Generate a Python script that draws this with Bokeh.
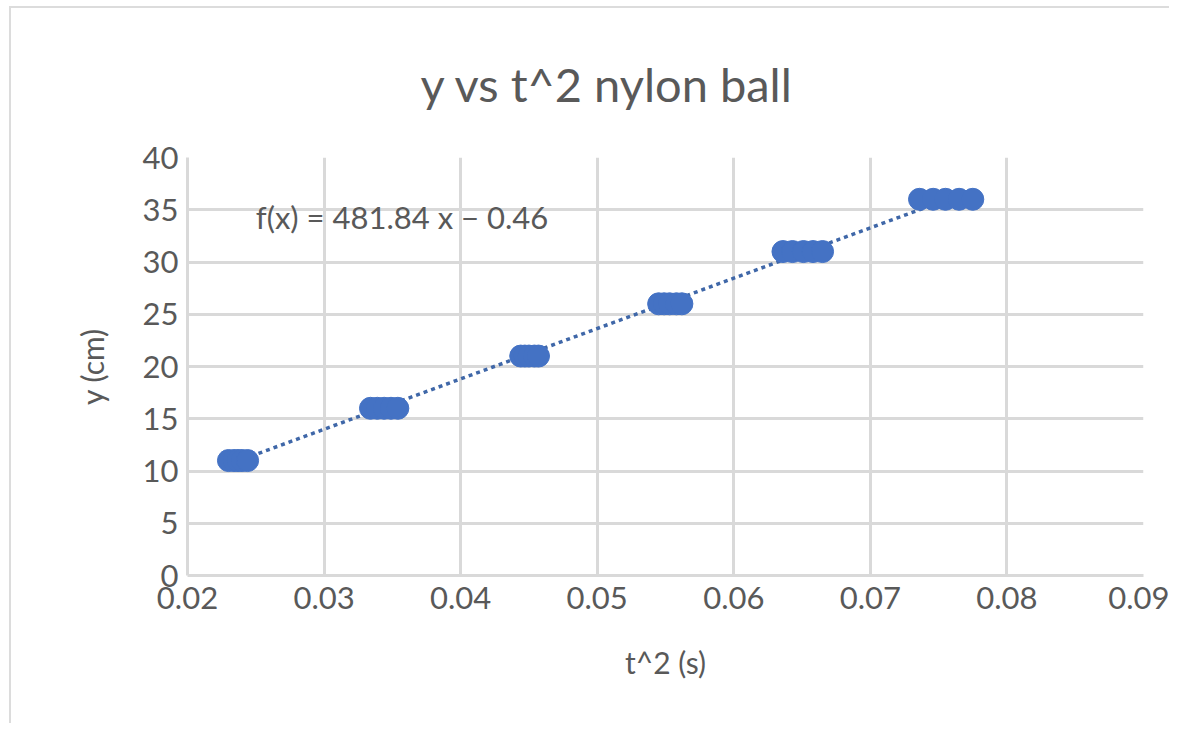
from bokeh.plotting import figure
from bokeh.models import Range1d, SingleIntervalTicker, Label, Title
from bokeh.embed import file_html
from bokeh.resources import INLINE

# ---- data ----
t2_values = [
    0.0230, 0.0234, 0.0237, 0.0240, 0.0244,
    0.0334, 0.0339, 0.0344, 0.0349, 0.0354,
    0.0444, 0.0447, 0.0450, 0.0454, 0.0457,
    0.0545, 0.0549, 0.0553, 0.0558, 0.0562,
    0.0636, 0.0643, 0.0651, 0.0658, 0.0665,
    0.0736, 0.0746, 0.0755, 0.0765, 0.0775,
]
y_values = [
    11, 11, 11, 11, 11,
    16, 16, 16, 16, 16,
    21, 21, 21, 21, 21,
    26, 26, 26, 26, 26,
    31, 31, 31, 31, 31,
    36, 36, 36, 36, 36,
]
fit_slope = 481.84
fit_intercept = -0.46
title_text = "y vs t^2 nylon ball"
x_title = "t^2 (s)"
y_title = "y (cm)"
equation_text = "f(x) = 481.84 x − 0.46"

FONT = "Lato"
TXT = "#595959"
GRID = "#d9d9d9"
BLUE = "#4472C4"

p = figure(
    width=1160, height=717,
    min_border_left=176, min_border_right=28,
    min_border_top=147, min_border_bottom=150,
    x_range=Range1d(0.02, 0.09), y_range=Range1d(0, 40),
    output_backend="svg", toolbar_location=None, title=None,
)
p.styles = {"margin-left": "9px", "margin-top": "6px",
            "border-top": "2px solid #dcdcdc", "border-left": "2px solid #dcdcdc"}
p.outline_line_color = None
p.background_fill_color = "white"
p.border_fill_color = "white"

t = Title(text=title_text, align="left", offset=233, standoff=91,
          text_font=FONT, text_font_size="47px", text_font_style="normal",
          text_color=TXT)
p.add_layout(t, "above")

p.xaxis.ticker = SingleIntervalTicker(interval=0.01)
p.yaxis.ticker = SingleIntervalTicker(interval=5)
for ax in (p.xaxis, p.yaxis):
    ax.major_tick_line_color = None
    ax.minor_tick_line_color = None
    ax.axis_line_color = GRID
    ax.axis_line_width = 3
    ax.major_label_text_font = FONT
    ax.major_label_text_font_size = "31px"
    ax.major_label_text_color = TXT
    ax.axis_label_text_font = FONT
    ax.axis_label_text_font_size = "30px"
    ax.axis_label_text_font_style = "normal"
    ax.axis_label_text_color = TXT
p.xaxis.axis_label = x_title
p.yaxis.axis_label = y_title
p.xaxis.major_label_standoff = 5
p.yaxis.major_label_standoff = 3
p.xaxis.axis_label_standoff = 32
p.yaxis.axis_label_standoff = 30

p.xgrid.grid_line_color = GRID
p.ygrid.grid_line_color = GRID
p.xgrid.grid_line_width = 3
p.ygrid.grid_line_width = 3

# trendline from fit coefficients, across data span
x0, x1 = min(t2_values), max(t2_values)
p.line([x0, x1], [fit_slope * x0 + fit_intercept, fit_slope * x1 + fit_intercept],
       line_color="#3F67A8", line_width=3.5, line_dash="4 4")

p.scatter(t2_values, y_values, size=22, marker="circle",
          fill_color=BLUE, line_color=BLUE, line_width=1)

p.add_layout(Label(x=0.025, y=34.3, text=equation_text, text_font=FONT,
                   text_font_size="31px", text_color=TXT, text_baseline="middle"))

open("out.html", "w").write(file_html(p, INLINE))
